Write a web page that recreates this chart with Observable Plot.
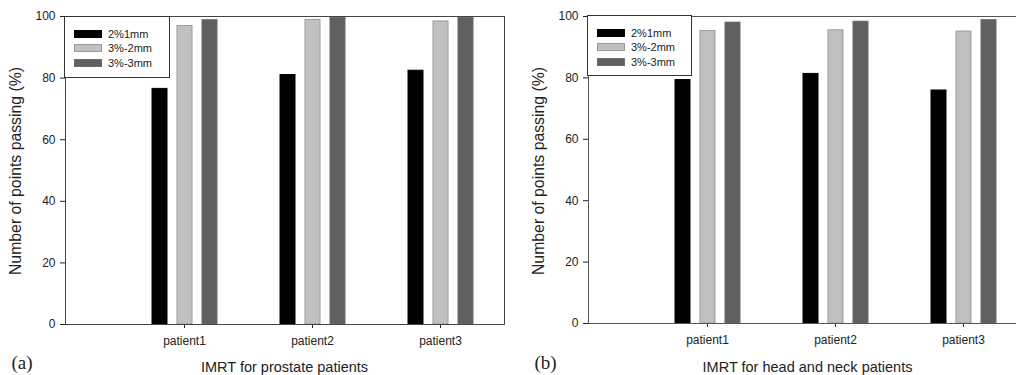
<!DOCTYPE html>
<html>
<head>
<meta charset="utf-8">
<script src="https://cdn.jsdelivr.net/npm/d3@7"></script>
<script src="https://cdn.jsdelivr.net/npm/@observablehq/plot@0.6"></script>
<style>
  html, body { margin: 0; padding: 0; background: #fff; }
  #root { position: relative; width: 1016px; height: 375px; overflow: hidden; background: #fff;
          font-family: "Liberation Sans", Arial, sans-serif; color: #222; }
  .panel { position: absolute; top: 0; width: 522px; height: 375px; }
  .panel svg { display: block; position: absolute; left: 0; top: 0; }
  .ylab { position: absolute; white-space: nowrap; font-size: 15.8px; line-height: 1;
          transform: translate(-50%, -50%) rotate(-90deg); }
  .xlab { position: absolute; white-space: nowrap; font-size: 14.5px; line-height: 1;
          transform: translate(-50%, -50%); }
  .tag { position: absolute; font-family: "Liberation Serif", "Times New Roman", serif; font-size: 19px; line-height: 1; }
  .legend { position: absolute; box-sizing: border-box; background: #fff; border: 1px solid #333; }
  .legend .sw { position: absolute; box-sizing: border-box; width: 28px; height: 8px; }
  .legend .lt { position: absolute; font-size: 11px; line-height: 1; white-space: nowrap; transform: translateY(-50%); }
</style>
</head>
<body>
<div id="root"></div>
<script>
// ---- data ----
const patients = ["patient1", "patient2", "patient3"];
const seriesNames = ["2%1mm", "3%-2mm", "3%-3mm"];
// IMRT for prostate patients
const prostate2pct1mm = [76.5, 81.0, 82.4];
const prostate3pct2mm = [96.9, 98.9, 98.4];
const prostate3pct3mm = [98.8, 99.6, 99.5];
// IMRT for head and neck patients
const headNeck2pct1mm = [79.3, 81.3, 75.9];
const headNeck3pct2mm = [95.3, 95.5, 95.1];
const headNeck3pct3mm = [98.0, 98.3, 98.8];
const yTicks = [0, 20, 40, 60, 80, 100];
const yTitle = "Number of points passing (%)";

// ---- styles ----
const fills = ["#000000", "#c0c0c0", "#606060"];
const strokes = ["#000000", "#9a9a9a", "#6a6a6a"];
const fontStyle = {fontFamily: "'Liberation Sans', Arial, sans-serif", fontSize: "12px", color: "#222", background: "transparent", overflow: "visible"};

function buildData(series) {
  return patients.flatMap((p, i) => seriesNames.map((s, j) => ({patient: p, series: s, value: series[j][i]})));
}

function makePanel(series, xTitle, tag, left, marginBottom, frameColor, legendBox) {
  const data = buildData(series);
  const dims = {width: 522, height: 375, marginLeft: 65, marginRight: 18, marginTop: 16, marginBottom};
  // bars + category axis
  const bars = Plot.plot({
    ...dims,
    style: fontStyle,
    fx: {domain: patients, paddingInner: 0, paddingOuter: 0.205, align: 1, axis: "bottom", label: null, tickSize: 4, tickPadding: 8},
    x: {domain: seriesNames, axis: null, paddingInner: 0.4, paddingOuter: 1.2},
    y: {domain: [0, 100], axis: null},
    marks: seriesNames.map((s, j) => Plot.barY(data.filter(d => d.series === s), {
      fx: "patient", x: "series", y: "value", fill: fills[j], stroke: strokes[j], strokeWidth: 1
    }))
  });
  // frame + value axis
  const axes = Plot.plot({
    ...dims,
    style: fontStyle,
    x: {domain: [0, 1], axis: null},
    y: {domain: [0, 100], ticks: yTicks, tickSize: 5, tickPadding: 5, label: null},
    marks: [Plot.frame({stroke: frameColor, strokeWidth: 1})]
  });
  const div = document.createElement("div");
  div.className = "panel";
  div.style.left = left + "px";
  div.appendChild(bars);
  div.appendChild(axes);

  const yl = document.createElement("div");
  yl.className = "ylab"; yl.textContent = yTitle;
  yl.style.left = "15.5px"; yl.style.top = "171px";
  div.appendChild(yl);

  const xl = document.createElement("div");
  xl.className = "xlab"; xl.textContent = xTitle;
  xl.style.left = "284.5px"; xl.style.top = "367px";
  div.appendChild(xl);

  const tg = document.createElement("div");
  tg.className = "tag"; tg.textContent = tag;
  tg.style.left = "11.5px"; tg.style.top = "353px";
  div.appendChild(tg);

  const lg = document.createElement("div");
  lg.className = "legend";
  lg.style.left = "64px"; lg.style.top = legendBox.top + "px";
  lg.style.width = legendBox.width + "px"; lg.style.height = legendBox.height + "px";
  seriesNames.forEach((s, j) => {
    const sw = document.createElement("div");
    sw.className = "sw";
    sw.style.left = "8.5px"; sw.style.top = (12.5 + j * 14.8) + "px";
    sw.style.background = fills[j];
    sw.style.border = "1px solid " + strokes[j];
    lg.appendChild(sw);
    const lt = document.createElement("div");
    lt.className = "lt"; lt.textContent = s;
    lt.style.left = "43px"; lt.style.top = (16.5 + j * 14.8) + "px";
    lg.appendChild(lt);
  });
  div.appendChild(lg);
  return div;
}

const root = document.getElementById("root");
root.appendChild(makePanel([prostate2pct1mm, prostate3pct2mm, prostate3pct3mm], "IMRT for prostate patients", "(a)", 0, 51, "#444", {top: 16, width: 106, height: 62}));
root.appendChild(makePanel([headNeck2pct1mm, headNeck3pct2mm, headNeck3pct3mm], "IMRT for head and neck patients", "(b)", 523, 52, "#555", {top: 15, width: 105, height: 61}));
</script>
</body>
</html>
